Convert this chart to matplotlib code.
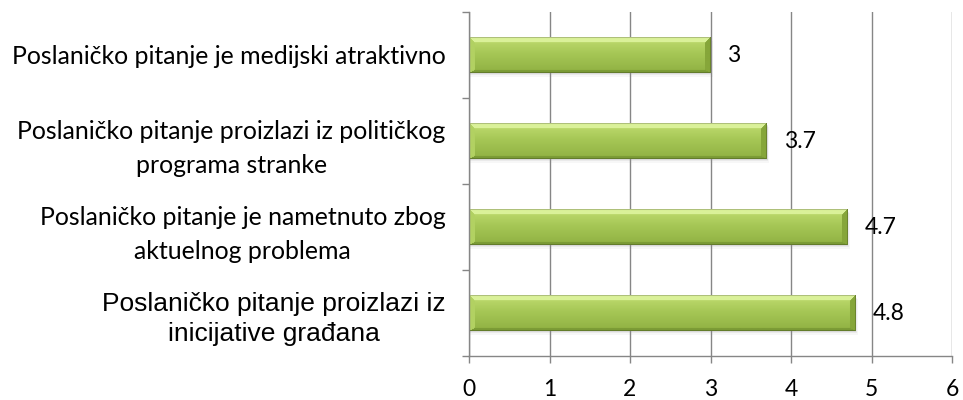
import numpy as np
import matplotlib
matplotlib.use("Agg")
import matplotlib.pyplot as plt
from matplotlib.colors import to_rgb

categories = [
    "Poslaničko pitanje proizlazi iz\ninicijative građana",
    "Poslaničko pitanje je nametnuto zbog\naktuelnog problema",
    "Poslaničko pitanje proizlazi iz političkog\nprograma stranke",
    "Poslaničko pitanje je medijski atraktivno",
]
values = [4.8, 4.7, 3.7, 3]
value_labels = ["4.8", "4.7", "3.7", "3"]
xticks = [0, 1, 2, 3, 4, 5, 6]

fig = plt.figure(figsize=(9.63, 4.0), dpi=100)
ax = fig.add_axes([469/963, 1-356/400, (952-469)/963, (356-12)/400])

ypos = np.arange(len(categories))
bar_h = 0.41
bars = ax.barh(ypos, values, height=bar_h, color='none', edgecolor='none', zorder=2)

ax.set_xlim(0, 6)
ax.set_ylim(-0.5, len(categories) - 0.5)


def lerp(a, b, f):
    return a + (b - a) * f


def bar_image(wpx, hpx):
    t = np.linspace(0, 1, hpx)[:, None, None]
    c_top = np.array(to_rgb('#c0dc70'))
    c_mid = np.array(to_rgb('#a6c756'))
    c_bot = np.array(to_rgb('#90b142'))
    face = np.where(t < 0.45, lerp(c_top, c_mid, t / 0.45), lerp(c_mid, c_bot, (t - 0.45) / 0.55))
    img = np.repeat(face, wpx, axis=1).copy()
    yy, xx = np.mgrid[0:hpx, 0:wpx]
    sizes = [6.0, 6.0, 5.0, 3.0]  # left, right, top, bottom
    d = np.stack([xx / sizes[0], (wpx - 1 - xx) / sizes[1], yy / sizes[2], (hpx - 1 - yy) / sizes[3]])
    m = d.min(axis=0)
    which = d.argmin(axis=0)
    cols = [np.array(to_rgb(c)) for c in ['#b2d162', '#86a63a', '#daf199', '#7c9c36']]
    for k in range(4):
        mask = (m < 1) & (which == k)
        img[mask] = cols[k]
    edge = (xx == 0) | (xx == wpx - 1) | (yy == 0) | (yy == hpx - 1)
    img[edge] = img[edge] * 0.8
    return img


for b, lab in zip(bars, value_labels):
    x0, y0 = b.get_x(), b.get_y()
    w, h = b.get_width(), b.get_height()
    for k, a in enumerate([0.18, 0.12, 0.07]):
        ax.add_patch(plt.Rectangle((x0 + 0.01, y0 - 0.015 - 0.015 * k), w + 0.01 * k, h,
                                   facecolor='#909090', alpha=a, edgecolor='none', zorder=1.5))
    wpx = int(round(w * 80.5))
    hpx = 35
    ax.imshow(bar_image(wpx, hpx), extent=(x0, x0 + w, y0, y0 + h), aspect='auto',
              origin='upper', zorder=2, interpolation='bilinear')
    ax.text(x0 + w + 0.21, y0 + h / 2, lab, va='center', ha='left',
            fontsize=16.5, family='Lato', color='black', zorder=3)

ax.set_xlim(0, 6)
ax.set_ylim(-0.5, len(categories) - 0.5)

ax.set_xticks(xticks)
ax.set_xticklabels([str(v) for v in xticks], fontsize=16.5, family='Lato')
ax.set_yticks(ypos)
ax.set_yticklabels(categories, fontsize=17.9, family='Lato', multialignment='center',
                   linespacing=1.6)
ylabs = ax.get_yticklabels()
ylabs[0].set_family('Liberation Sans')
ylabs[0].set_fontsize(19)
ylabs[0].set_linespacing(1.35)

ax.set_yticks(np.arange(-0.5, len(categories), 1.0), minor=True)
ax.tick_params(axis='y', which='major', length=0, pad=17)
ax.tick_params(axis='y', which='minor', length=5, width=1, color='#868686', direction='out')
ax.tick_params(axis='x', which='major', length=5, width=1, color='#868686', direction='out', pad=11.5)

ax.grid(axis='x', color='#868686', linewidth=1)
ax.set_axisbelow(True)
for s in ['top', 'right']:
    ax.spines[s].set_visible(False)
for s in ['left', 'bottom']:
    ax.spines[s].set_color('#868686')
    ax.spines[s].set_linewidth(1)

fig.savefig('out.png', dpi=100)
